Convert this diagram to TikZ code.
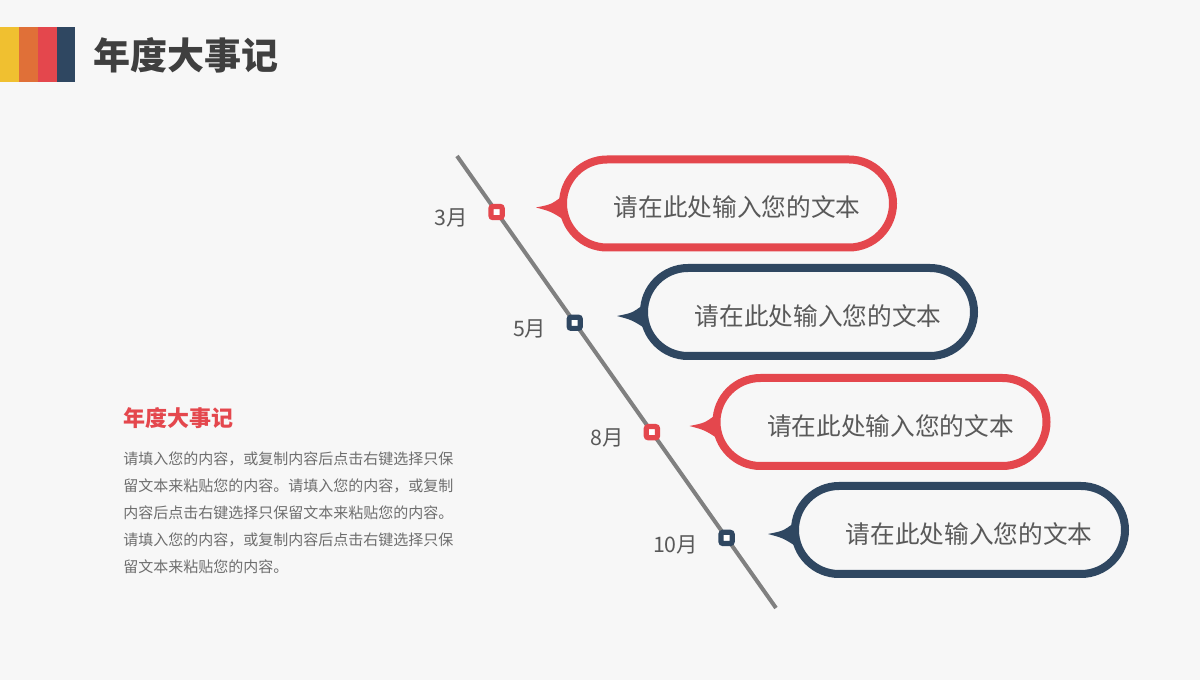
\documentclass[tikz,border=0pt]{standalone}
\usepackage{fontspec}
\setmainfont{Noto Sans CJK SC}
\usepackage{tikz}
\usetikzlibrary{positioning,calc}
\definecolor{bg}{HTML}{F7F7F7}
\definecolor{barya}{HTML}{F0C030}
\definecolor{baror}{HTML}{E07038}
\definecolor{accent}{HTML}{E4474D}
\definecolor{navy}{HTML}{2F4761}
\definecolor{ink}{HTML}{3F3F3F}
\definecolor{soft}{HTML}{595959}
\definecolor{body}{HTML}{6E6E6E}
\definecolor{rail}{HTML}{808080}
\tikzset{
  bubble/.style={draw=#1, line width=6pt, minimum width=247.5pt, minimum height=66pt,
    rounded corners=33pt, fill=bg, inner sep=0pt},
  bubbletext/.style={text=soft, font=\fontsize{18.5}{22}\selectfont, inner sep=0pt},
  marker/.style={draw=#1, line width=3.9pt, fill=white, minimum size=8.4pt,
    rounded corners=1.5pt, inner sep=0pt, outer sep=0pt},
  monthlabel/.style={text=soft, font=\fontsize{16}{19}\selectfont, inner sep=0pt},
  railline/.style={draw=rail, line width=3pt}
}

\begin{document}
\begin{tikzpicture}[x=0.75pt, y=-0.75pt]
  \useasboundingbox (0,0) rectangle (1200,680);
  \fill[bg] (0,0) rectangle (1200,680);

  % header
  \fill[barya] (0,27) rectangle (19,82);
  \fill[baror] (19,27) rectangle (38,82);
  \fill[accent] (38,27) rectangle (57,82);
  \fill[navy] (57,27) rectangle (75,82);
  \node[anchor=west, inner sep=0pt, text=ink, font=\fontsize{27.75}{32}\selectfont\bfseries]
    (title) at (93,55) {年度大事记};

  % left text block
  \node[anchor=west, inner sep=0pt, text=accent, font=\fontsize{16.5}{20}\selectfont\bfseries]
    (blocktitle) at (123,418) {年度大事记};
  \node[anchor=north west, inner sep=0pt, text=body, align=left,
    font=\fontsize{11.25}{20.25}\selectfont] (blocktext) at (123,452) {%
    请填入您的内容，或复制内容后点击右键选择只保\\
    留文本来粘贴您的内容。请填入您的内容，或复制\\
    内容后点击右键选择只保留文本来粘贴您的内容。\\
    请填入您的内容，或复制内容后点击右键选择只保\\
    留文本来粘贴您的内容。};

  % timeline
  \coordinate (tltop) at (457,156);
  \coordinate (tlbot) at (776,608);
  \draw[railline] (tltop) -- (tlbot);
  \path (tltop) -- (tlbot)
    node[marker=accent, pos=0.124] (m3) {}
    node[marker=navy, pos=0.369] (m5) {}
    node[marker=accent, pos=0.611] (m8) {}
    node[marker=navy, pos=0.845] (m10) {};

  \node[monthlabel, left=17pt of m3, yshift=-4.5pt] (l3) {3月};
  \node[monthlabel, left=17pt of m5, yshift=-4.5pt] (l5) {5月};
  \node[monthlabel, left=17pt of m8, yshift=-4.5pt] (l8) {8月};
  \node[monthlabel, left=17pt of m10, yshift=-5.5pt] (l10) {10月};

  % bubbles
  \node[bubble=accent] (b1) at (728,203.5) {};
  \node[bubble=navy] (b2) at (809,312) {};
  \node[bubble=accent] (b3) at (881.5,422) {};
  \node[bubble=navy] (b4) at (960,530) {};

  \foreach \b/\c in {b1/accent, b2/navy, b3/accent, b4/navy}{
    \fill[\c] ($(\b.west)+(-23,4)$) .. controls ($(\b.west)+(-8,1)$) .. ($(\b.west)+(3,-7)$)
      -- ($(\b.west)+(6,17)$) .. controls ($(\b.west)+(-8,8)$) .. ($(\b.west)+(-23,4)$) -- cycle;
  }

  \node[bubbletext] (t1) at ($(b1)+(9,4)$) {请在此处输入您的文本};
  \node[bubbletext] (t2) at ($(b2)+(9,4)$) {请在此处输入您的文本};
  \node[bubbletext] (t3) at ($(b3)+(9,4)$) {请在此处输入您的文本};
  \node[bubbletext] (t4) at ($(b4)+(9,4)$) {请在此处输入您的文本};
\end{tikzpicture}
\end{document}
